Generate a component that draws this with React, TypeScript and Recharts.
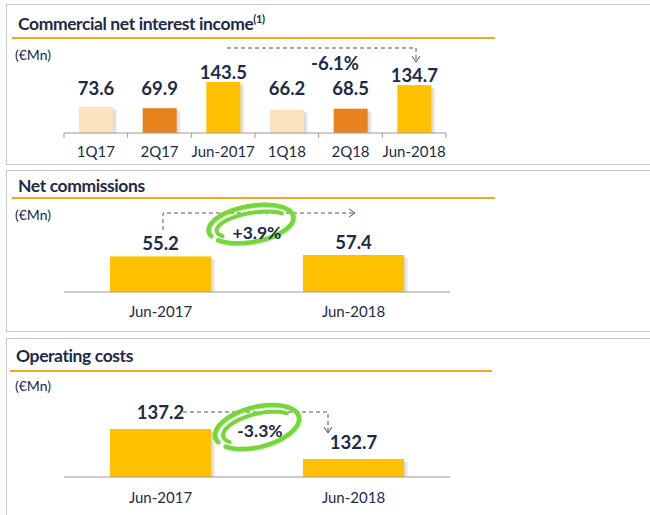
import { BarChart, Bar, XAxis, YAxis, LabelList, Cell } from 'recharts';

// ---- data ----
const niiCategories = ['1Q17', '2Q17', 'Jun-2017', '1Q18', '2Q18', 'Jun-2018'];
const niiValues = [73.6, 69.9, 143.5, 66.2, 68.5, 134.7];
const halfCategories = ['Jun-2017', 'Jun-2018'];
const commissionValues = [55.2, 57.4];
const costValues = [137.2, 132.7];

const niiColors = ['#FDE3BD', '#E8821C', '#FFC000', '#FDE3BD', '#E8821C', '#FFC000'];
const GOLD = '#FFC000';
const NAVY = '#1C2B47';
const FONT = 'Lato, "Open Sans", sans-serif';

const toRows = (cats: string[], vals: number[]) => cats.map((name, i) => ({ name, value: vals[i] }));

const ShadowBar = (props: any) => {
  const { x, y, width, height, fill } = props;
  if (!height) return null;
  return (
    <g>
      <rect x={x + 4} y={y + 3} width={width} height={height - 3} fill="#000" opacity={0.07} />
      <rect x={x + 2} y={y + 2} width={width} height={height - 2} fill="#000" opacity={0.08} />
      <rect x={x} y={y} width={width} height={height} fill={fill} />
    </g>
  );
};

const makeLabel = (gap: number, floor?: number) => (props: any) => {
  const { x, y, width, value } = props;
  let base = y - gap;
  if (floor !== undefined) base = Math.min(base, floor);
  return (
    <text x={x + width / 2} y={base} textAnchor="middle" fontFamily={FONT} fontWeight={700} fontSize={18.5} fill={NAVY}>
      {value}
    </text>
  );
};

const makeTick = (band: number, count: number, withTicks: boolean, dy: number) => (props: any) => {
  const { x, y, payload, index } = props;
  return (
    <g>
      {withTicks && <line x1={x - band / 2} x2={x - band / 2} y1={y} y2={y + 5} stroke="#9a9a9a" />}
      {withTicks && index === count - 1 && <line x1={x + band / 2} x2={x + band / 2} y1={y} y2={y + 5} stroke="#9a9a9a" />}
      <text x={x} y={y + dy} textAnchor="middle" fontFamily={FONT} fontSize={15} fill={NAVY}>
        {payload.value}
      </text>
    </g>
  );
};

interface PanelChartProps {
  top: number;
  height: number;
  data: { name: string; value: number }[];
  colors?: string[];
  plotTop: number;
  axisY: number;
  right: number;
  barSize: number;
  domain: any[];
  withTicks: boolean;
  label: any;
  tickDy: number;
}

function PanelChart(p: PanelChartProps) {
  const left = 64;
  const band = (650 - left - p.right) / p.data.length;
  return (
    <div style={{ position: 'absolute', left: 0, top: p.top }}>
      <BarChart
        width={650}
        height={p.height}
        data={p.data}
        margin={{ top: p.plotTop, left, right: p.right, bottom: p.height - p.axisY - 30 }}
      >
        <XAxis
          dataKey="name"
          height={30}
          axisLine={{ stroke: '#9a9a9a' }}
          tickLine={false}
          tickSize={0}
          tickMargin={0}
          interval={0}
          tick={makeTick(band, p.data.length, p.withTicks, p.tickDy)}
        />
        <YAxis hide domain={p.domain} allowDataOverflow />
        <Bar dataKey="value" barSize={p.barSize} fill={GOLD} shape={ShadowBar} isAnimationActive={false}>
          {p.data.map((d, i) => (
            <Cell key={d.name} fill={p.colors ? p.colors[i] : GOLD} />
          ))}
          <LabelList dataKey="value" content={p.label} />
        </Bar>
      </BarChart>
    </div>
  );
}

// hand-drawn looking spiral ring (annotation only)
function arc(cx: number, cy: number, rx: number, ry: number, a0: number, a1: number) {
  const pts: string[] = [];
  const steps = 60;
  for (let i = 0; i <= steps; i++) {
    const a = ((a0 + ((a1 - a0) * i) / steps) * Math.PI) / 180;
    pts.push(`${(cx + rx * Math.cos(a)).toFixed(1)},${(cy + ry * Math.sin(a)).toFixed(1)}`);
  }
  return 'M' + pts.join(' L');
}

function Ring({ cx, cy, rx, ry, rot }: { cx: number; cy: number; rx: number; ry: number; rot: number }) {
  const green = '#76D63A';
  return (
    <g transform={`rotate(${rot} ${cx} ${cy})`} fill="none" strokeLinecap="round">
      <path d={arc(cx, cy, rx, ry, 165, 505)} stroke={green} strokeWidth={5} opacity={0.35} transform="translate(0.8 0.8)" />
      <path d={arc(cx, cy, rx, ry, 165, 505)} stroke={green} strokeWidth={4.5} />
      <path d={arc(cx + 1, cy + 1, rx - 7, ry - 6, 150, 330)} stroke={green} strokeWidth={4} />
    </g>
  );
}

const titleStyle = { fontFamily: FONT, fontWeight: 700, fontSize: 17.5, fill: NAVY, letterSpacing: -0.4 } as const;
const unitStyle = { fontFamily: FONT, fontSize: 14, fill: NAVY } as const;
const dash = { stroke: '#4a5568', strokeWidth: 1, strokeDasharray: '4 3', fill: 'none' } as const;
const arrow = { stroke: '#4a5568', strokeWidth: 1, fill: 'none' } as const;

export default function App() {
  return (
    <div style={{ position: 'absolute', left: 0, top: 0, width: 650, height: 515, background: '#fff', overflow: 'hidden' }}>
      <svg width={650} height={515} style={{ position: 'absolute', left: 0, top: 0 }}>
        <rect x={6.5} y={4.5} width={700} height={160} fill="none" stroke="#c9c9c9" />
        <rect x={6.5} y={170.5} width={700} height={161} fill="none" stroke="#c9c9c9" />
        <rect x={6.5} y={338.5} width={700} height={200} fill="none" stroke="#c9c9c9" />
      </svg>

      <PanelChart
        top={0}
        height={170}
        data={toRows(niiCategories, niiValues)}
        colors={niiColors}
        plotTop={82}
        axisY={133}
        right={204}
        barSize={34}
        domain={[0, 'dataMax']}
        withTicks
        label={makeLabel(3, 95)}
        tickDy={24}
      />
      <PanelChart
        top={170}
        height={162}
        data={toRows(halfCategories, commissionValues)}
        plotTop={85}
        axisY={122}
        right={200}
        barSize={101}
        domain={[0, 'dataMax']}
        withTicks={false}
        label={makeLabel(6)}
        tickDy={25}
      />
      <PanelChart
        top={338}
        height={177}
        data={toRows(halfCategories, costValues)}
        plotTop={91}
        axisY={139}
        right={200}
        barSize={101}
        domain={[130, 'dataMax']}
        withTicks={false}
        label={makeLabel(10)}
        tickDy={26}
      />

      <svg width={650} height={515} style={{ position: 'absolute', left: 0, top: 0, pointerEvents: 'none' }}>
        {/* panel 1 */}
        <text x={18} y={30} {...titleStyle}>
          Commercial net interest income
          <tspan fontSize={11} dy={-7}>(1)</tspan>
        </text>
        <line x1={12} x2={495} y1={38} y2={38} stroke="#F5A623" strokeWidth={2} />
        <text x={15} y={60} {...unitStyle}>(€Mn)</text>
        <path d="M227 48 H416 V62" {...dash} />
        <path d="M412 56 L416 62 L420 56" {...arrow} />
        <text x={335} y={70} textAnchor="middle" fontFamily={FONT} fontWeight={700} fontSize={18.5} fill={NAVY}>-6.1%</text>

        {/* panel 2 */}
        <text x={18} y={192} {...titleStyle}>Net commissions</text>
        <line x1={12} x2={495} y1={198} y2={198} stroke="#F5A623" strokeWidth={2} />
        <text x={15} y={220} {...unitStyle}>(€Mn)</text>
        <path d="M163 230 V213 H355" {...dash} />
        <path d="M349 209 L355 213 L349 217" {...arrow} />
        <Ring cx={251} cy={224} rx={43} ry={18} rot={-10} />
        <text x={257} y={239} textAnchor="middle" fontFamily={FONT} fontWeight={700} fontSize={17.5} fill={NAVY}>+3.9%</text>

        {/* panel 3 */}
        <text x={16} y={362} {...titleStyle}>Operating costs</text>
        <line x1={10} x2={492} y1={371} y2={371} stroke="#F5A623" strokeWidth={2} />
        <text x={15} y={391} {...unitStyle}>(€Mn)</text>
        <path d="M183 412 H328 V433" {...dash} />
        <path d="M324 427 L328 433 L332 427" {...arrow} />
        <Ring cx={257} cy={427} rx={43} ry={20} rot={-14} />
        <text x={260} y={437} textAnchor="middle" fontFamily={FONT} fontWeight={700} fontSize={17.5} fill={NAVY}>-3.3%</text>
      </svg>
    </div>
  );
}
